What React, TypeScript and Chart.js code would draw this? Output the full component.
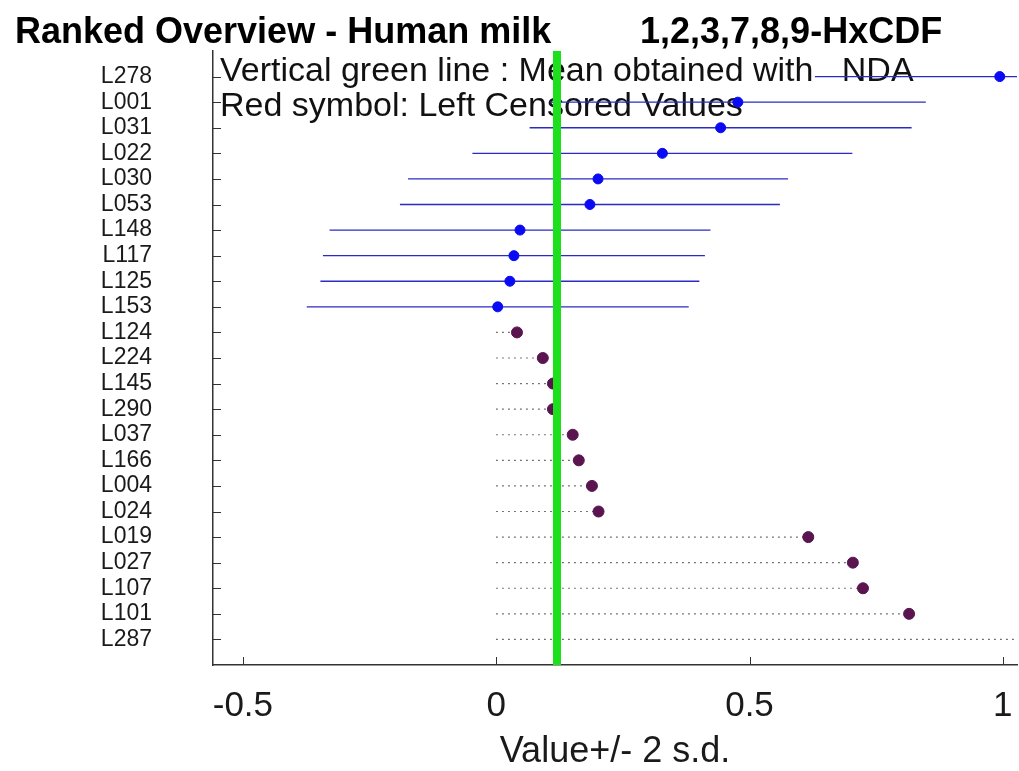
import React, { useEffect, useRef } from 'react';
import { Chart, registerables } from 'chart.js';

Chart.register(...registerables);

const labs = ['L278', 'L001', 'L031', 'L022', 'L030', 'L053', 'L148', 'L117', 'L125', 'L153', 'L124', 'L224', 'L145', 'L290', 'L037', 'L166', 'L004', 'L024', 'L019', 'L027', 'L107', 'L101', 'L287'];
const values = [0.994, 0.477, 0.443, 0.328, 0.201, 0.185, 0.047, 0.035, 0.027, 0.003, 0.041, 0.092, 0.112, 0.112, 0.151, 0.163, 0.189, 0.202, 0.616, 0.704, 0.724, 0.815, 1.06];
const twoSd = [0.365, 0.371, 0.377, 0.375, 0.375, 0.375, 0.376, 0.377, 0.374, 0.377, null, null, null, null, null, null, null, null, null, null, null, null, null];
const censored = [false, false, false, false, false, false, false, false, false, false, true, true, true, true, true, true, true, true, true, true, true, true, true];
const meanNDA = 0.12;
const xTicks = [-0.5, 0, 0.5, 1];
const titleText = 'Ranked Overview - Human milk';
const analyteText = '1,2,3,7,8,9-HxCDF';
const notes = ['Vertical green line : Mean obtained with   NDA', 'Red symbol: Left Censored Values'];
const xLabel = 'Value+/- 2 s.d.';

const FONT = '"Liberation Sans", Arial, Helvetica, sans-serif';

export default function App() {
  const ref = useRef<HTMLCanvasElement | null>(null);

  useEffect(() => {
    if (!ref.current) return;
    const rowCount = labs.length;

    const errorSets = labs
      .map((l, i) => ({ l, i }))
      .filter(({ i }) => !censored[i])
      .map(({ l, i }) => ({
        label: 'err ' + l,
        data: [
          { x: values[i] - (twoSd[i] as number), y: i + 1 },
          { x: values[i] + (twoSd[i] as number), y: i + 1 },
        ],
        showLine: true,
        borderColor: '#2b2bc4',
        borderWidth: 1.4,
        pointRadius: 0,
        order: 3,
      }));

    const dottedSets = labs
      .map((l, i) => ({ l, i }))
      .filter(({ i }) => censored[i])
      .map(({ l, i }) => ({
        label: 'cens ' + l,
        data: [
          { x: 0, y: i + 1 },
          { x: values[i], y: i + 1 },
        ],
        showLine: true,
        borderColor: '#4a4a4a',
        borderWidth: 1.2,
        borderDash: [1.5, 4.5],
        pointRadius: 0,
        order: 3,
      }));

    const textPlugin = {
      id: 'texts',
      beforeDraw(chart: any) {
        const ctx = chart.ctx;
        ctx.save();
        ctx.fillStyle = '#ffffff';
        ctx.fillRect(0, 0, chart.width, chart.height);
        ctx.fillStyle = '#000000';
        ctx.font = 'bold 36px ' + FONT;
        ctx.textBaseline = 'alphabetic';
        ctx.textAlign = 'left';
        ctx.fillText(titleText, 15, 43);
        ctx.fillText(analyteText, 640, 43);
        ctx.restore();
      },
      beforeDatasetsDraw(chart: any) {
        const ctx = chart.ctx;
        const a = chart.chartArea;
        ctx.save();
        ctx.fillStyle = '#111111';
        ctx.font = '34px ' + FONT;
        ctx.textBaseline = 'alphabetic';
        ctx.textAlign = 'left';
        ctx.fillText(notes[0], a.left + 7, 81);
        ctx.fillText(notes[1], a.left + 7, 116);
        ctx.restore();
      },
      afterDraw(chart: any) {
        const ctx = chart.ctx;
        const a = chart.chartArea;
        const xs = chart.scales.x;
        const ys = chart.scales.y;
        ctx.save();
        ctx.strokeStyle = '#333333';
        ctx.lineWidth = 1;
        ys.ticks.forEach((t: any) => {
          const py = Math.round(ys.getPixelForValue(t.value)) + 0.5;
          ctx.beginPath();
          ctx.moveTo(a.left, py);
          ctx.lineTo(a.left + 8, py);
          ctx.stroke();
        });
        xs.ticks.forEach((t: any) => {
          const px = Math.round(xs.getPixelForValue(t.value)) + 0.5;
          ctx.beginPath();
          ctx.moveTo(px, a.bottom);
          ctx.lineTo(px, a.bottom - 8);
          ctx.stroke();
        });
        ctx.restore();
      },
    };

    const chart = new Chart(ref.current, {
      type: 'scatter',
      data: {
        datasets: [
          {
            label: 'Mean NDA',
            data: [
              { x: meanNDA, y: 0 },
              { x: meanNDA, y: rowCount + 1 },
            ],
            showLine: true,
            borderColor: '#1be01b',
            borderWidth: 8,
            pointRadius: 0,
            order: 0,
          },
          {
            label: 'Values',
            data: labs.map((_, i) => i).filter((i) => !censored[i]).map((i) => ({ x: values[i], y: i + 1 })),
            pointRadius: 5,
            pointBackgroundColor: '#0a0af5',
            pointBorderColor: '#0a0af5',
            pointBorderWidth: 1,
            order: 1,
          },
          {
            label: 'Left censored',
            data: labs.map((_, i) => i).filter((i) => censored[i]).map((i) => ({ x: values[i], y: i + 1 })),
            pointRadius: 5.5,
            pointBackgroundColor: '#5a1450',
            pointBorderColor: '#5a1450',
            pointBorderWidth: 1,
            order: 1,
          },
          ...errorSets,
          ...dottedSets,
        ] as any,
      },
      options: {
        animation: false,
        responsive: false,
        maintainAspectRatio: false,
        devicePixelRatio: 1,
        layout: { autoPadding: false, padding: { top: 51, right: 2, left: 0, bottom: 0 } },
        plugins: {
          legend: { display: false },
          tooltip: { enabled: false },
          title: { display: false },
        },
        scales: {
          x: {
            type: 'linear',
            min: -0.559,
            max: 1.028,
            afterBuildTicks: (scale: any) => {
              scale.ticks = xTicks.map((v) => ({ value: v }));
            },
            afterFit: (scale: any) => {
              scale.height = 106;
              scale.paddingLeft = 0;
              scale.paddingRight = 0;
            },
            grid: { display: false, drawTicks: false },
            border: { display: true, color: '#333333', width: 1.5 },
            ticks: {
              font: { family: FONT, size: 35 },
              color: '#1a1a1a',
              padding: 20,
              maxRotation: 0,
              autoSkip: false,
              callback: (v: any) => String(v),
            },
            title: {
              display: true,
              text: xLabel,
              font: { family: FONT, size: 36 },
              color: '#1a1a1a',
              padding: { top: 0, bottom: -3 },
            },
          },
          y: {
            type: 'linear',
            min: 0,
            max: rowCount + 1,
            reverse: true,
            afterBuildTicks: (scale: any) => {
              scale.ticks = labs.map((_, i) => ({ value: i + 1 }));
            },
            afterFit: (scale: any) => {
              scale.width = 213;
              scale.paddingTop = 0;
              scale.paddingBottom = 0;
            },
            grid: { display: false, drawTicks: false },
            border: { display: true, color: '#333333', width: 1.5 },
            ticks: {
              font: { family: FONT, size: 23 },
              color: '#1a1a1a',
              padding: 61,
              autoSkip: false,
              callback: (v: any) => labs[Number(v) - 1] ?? '',
            },
          },
        },
      } as any,
      plugins: [textPlugin],
    });

    return () => chart.destroy();
  }, []);

  return (
    <div style={{ position: 'fixed', left: 0, top: 0, width: 1019, height: 771, background: '#ffffff' }}>
      <canvas ref={ref} width={1019} height={771} style={{ width: 1019, height: 771, display: 'block' }} />
    </div>
  );
}
